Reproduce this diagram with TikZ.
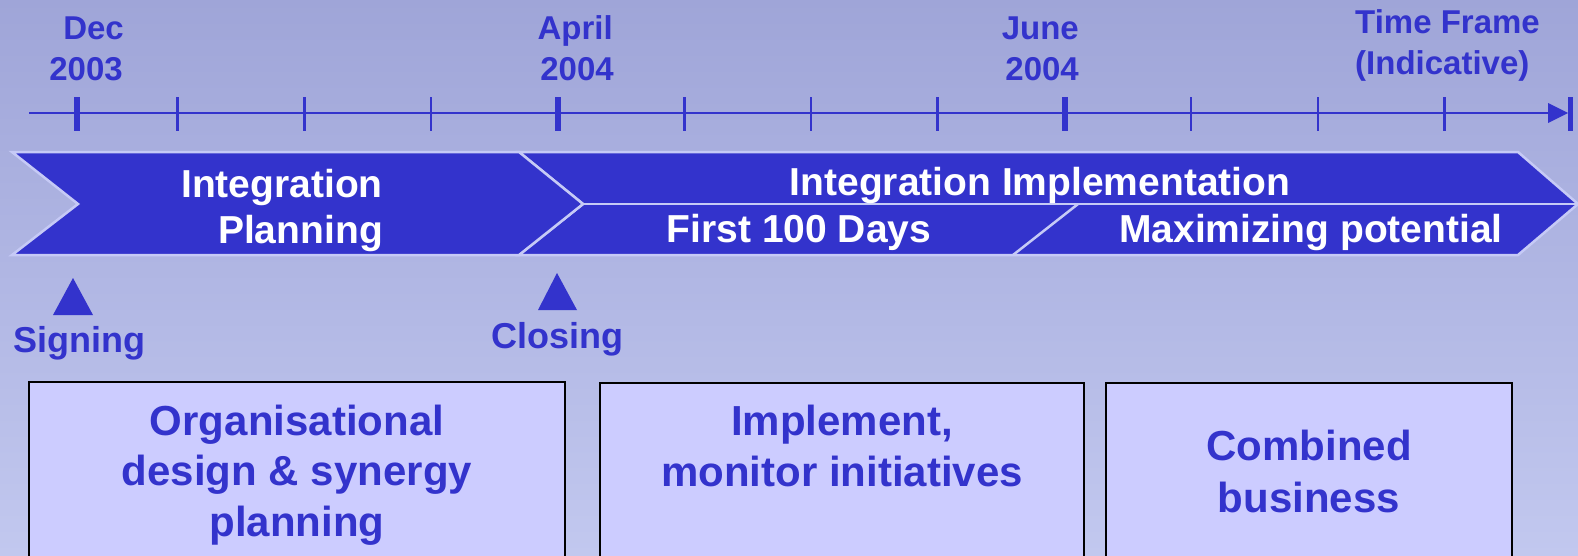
\documentclass[tikz,border=0pt]{standalone}
\usepackage{fontspec}
\setmainfont{Liberation Sans}
\definecolor{tblue}{HTML}{3333CC}
\definecolor{boxfill}{HTML}{CCCCFF}
\definecolor{edge}{HTML}{C6CAF6}
\definecolor{bgtop}{HTML}{9FA5D8}
\definecolor{bgbot}{HTML}{C2C8EF}
\tikzset{
  lbl/.style={text=tblue, font=\bfseries\fontsize{33}{40}\selectfont, inner sep=0pt},
  chevtxt/.style={text=white, font=\bfseries\fontsize{39}{46}\selectfont, inner sep=0pt},
  boxtxt/.style={text=tblue, font=\bfseries\fontsize{42}{51}\selectfont, inner sep=0pt},
  miletxt/.style={text=tblue, font=\bfseries\fontsize{36}{40}\selectfont, inner sep=0pt},
  phase/.style={fill=tblue, draw=edge, line width=2.5pt, line join=miter},
  sep/.style={draw=edge, line width=2.5pt},
  stagebox/.style={fill=boxfill, draw=black, line width=2.5pt},
  majortick/.style={draw=tblue, line width=6pt},
  minortick/.style={draw=tblue, line width=2.6pt},
  axis/.style={draw=tblue, line width=2.5pt},
  marker/.style={fill=tblue},
}
\begin{document}
\begin{tikzpicture}[x=1pt,y=-1pt]
\useasboundingbox (0,0) rectangle (1578,555);
\clip (0,0) rectangle (1578,555);
\shade[top color=bgtop, bottom color=bgbot] (0,0) rectangle (1578,555);

% timeline
\coordinate (tlstart) at (29,113);
\coordinate (tlend) at (1550,113);
\draw[axis] (tlstart) -- (tlend);
\fill[tblue] (1548,103) -- (1568,113) -- (1548,123) -- cycle;
\foreach \x in {77,558,1065} {\draw[majortick] (\x,97) -- (\x,131);}
\draw[draw=tblue, line width=5pt] (1570,97) -- (1570,131);
\foreach \k in {0,1,2,4,5,6,8,9,10} {\draw[minortick] ({177.5+126.7*\k},97) -- ({177.5+126.7*\k},131);}

% date labels
\node[lbl, anchor=base east] (dec1) at (124,39) {Dec};
\node[lbl, anchor=base east] (dec2) at (123,80) {2003};
\node[lbl, anchor=base east] (apr1) at (613,39) {April};
\node[lbl, anchor=base east] (apr2) at (614,80) {2004};
\node[lbl, anchor=base east] (jun1) at (1079,39) {June};
\node[lbl, anchor=base east] (jun2) at (1079,80) {2004};
\node[lbl, anchor=base west] (tf1) at (1355,33) {Time Frame};
\node[lbl, anchor=base west] (tf2) at (1355,74) {(Indicative)};

% phase chevrons
\draw[phase] (519,152) -- (1518,152) -- (1578,204) -- (1518,255) -- (519,255) -- (583,204) -- cycle;
\draw[phase] (12,152) -- (519,152) -- (583,204) -- (519,255) -- (12,255) -- (78,204) -- cycle;
\draw[sep] (583,204) -- (1578,204);
\draw[sep] (1078,204) -- (1013,255);

\node[chevtxt, anchor=base east] (ip1) at (383,197) {Integration};
\node[chevtxt, anchor=base east] (ip2) at (383,243) {Planning};
\node[chevtxt, anchor=base] (ii) at (1040,195) {Integration Implementation};
\node[chevtxt, anchor=base] (f100) at (799,242) {First 100 Days};
\node[chevtxt, anchor=base] (maxp) at (1311,242) {Maximizing potential};

% milestones
\fill[marker] (53,315) -- (73,278) -- (93,315) -- cycle;
\node[miletxt, anchor=base] (sign) at (79,352) {Signing};
\fill[marker] (538,310) -- (557,273) -- (577,310) -- cycle;
\node[miletxt, anchor=base] (close) at (557,348) {Closing};

% stage boxes
\draw[stagebox] (29,382) rectangle (565,580);
\draw[stagebox] (600,383) rectangle (1084,580);
\draw[stagebox] (1106,383) rectangle (1512,580);

\node[boxtxt, anchor=base] (b1a) at (297,435) {Organisational};
\node[boxtxt, anchor=base] (b1b) at (297,485) {design \& synergy};
\node[boxtxt, anchor=base] (b1c) at (297,536) {planning};
\node[boxtxt, anchor=base] (b2a) at (842,435) {Implement,};
\node[boxtxt, anchor=base] (b2b) at (842,486) {monitor initiatives};
\node[boxtxt, anchor=base] (b3a) at (1309,460) {Combined};
\node[boxtxt, anchor=base] (b3b) at (1309,512) {business};
\end{tikzpicture}
\end{document}
